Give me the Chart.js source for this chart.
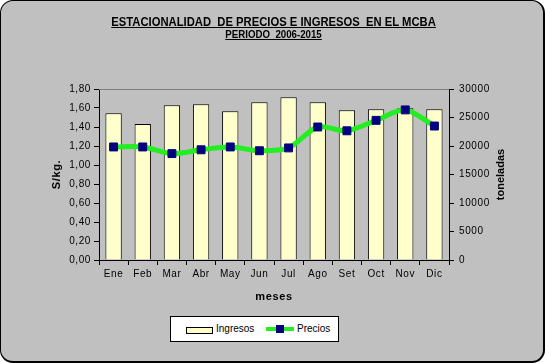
<!DOCTYPE html>
<html>
<head>
<meta charset="utf-8">
<script src="https://cdn.jsdelivr.net/npm/chart.js@4"></script>
<style>
  body { margin: 0; background: #fff; }
  #frame {
    position: relative; width: 545px; height: 363px; box-sizing: border-box;
    background: #c0c0c0; border: 1px solid #000; border-right-width: 2px; border-bottom-width: 2px;
    border-radius: 13px; overflow: hidden; font-family: "Liberation Sans", Arial, sans-serif;
  }
  #chart { position: absolute; left: -1px; top: -1px; }
  .title { position: absolute; left: 0; width: 545px; text-align: center; font-weight: bold;
    text-decoration: underline; white-space: pre; color: #000; transform-origin: 273px 0; }
  #t1 { top: 14px; font-size: 12.5px; transform: scaleX(0.9); }
  #t2 { top: 28px; font-size: 10px; transform: scaleX(0.97); }
  #legend { position: absolute; left: 169px; top: 315px; width: 167px; height: 24px;
    background: #fff; border: 1px solid #000; font-size: 10px; }
  #legend .sw { position: absolute; left: 15px; top: 10px; width: 25px; height: 5px;
    background: #ffffcc; border: 1px solid #000; }
  #legend .ln { position: absolute; left: 95px; top: 10px; width: 28px; height: 4px; background: #22ee22; }
  #legend .mk { position: absolute; left: 105px; top: 8px; width: 8px; height: 8px; background: #000080; }
  #legend .lb { position: absolute; top: 6px; }
</style>
</head>
<body>
<div id="frame">
  <canvas id="chart" width="545" height="363"></canvas>
  <div class="title" id="t1">ESTACIONALIDAD  DE PRECIOS E INGRESOS  EN EL MCBA</div>
  <div class="title" id="t2">PERIODO  2006-2015</div>
  <div id="legend">
    <span class="sw"></span><span class="lb" style="left:45px">Ingresos</span>
    <span class="ln"></span><span class="mk"></span><span class="lb" style="left:126px">Precios</span>
  </div>
</div>
<script>
// Estacionalidad de precios e ingresos - MCBA 2006-2015
const meses = ['Ene', 'Feb', 'Mar', 'Abr', 'May', 'Jun', 'Jul', 'Ago', 'Set', 'Oct', 'Nov', 'Dic'];
const ingresos = [25760, 23840, 27150, 27330, 26100, 27670, 28550, 27670, 26280, 26460, 26630, 26460];
const precios = [1.19, 1.19, 1.12, 1.16, 1.19, 1.15, 1.18, 1.40, 1.36, 1.47, 1.58, 1.41];
const ticksPrecio = ['0,00', '0,20', '0,40', '0,60', '0,80', '1,00', '1,20', '1,40', '1,60', '1,80'];
const ticksToneladas = ['0', '5000', '10000', '15000', '20000', '25000', '30000'];

const tickFont = { family: 'Liberation Sans', size: 10 };
const titleFont = { family: 'Liberation Sans', size: 11, weight: 'bold' };

// borde superior del area de trazado y titulo del eje derecho
const extras = {
  id: 'extras',
  beforeDraw(chart) {
    chart.ctx.letterSpacing = '0.6px';
  },
  afterDatasetsDraw(chart) {
    const { ctx, chartArea } = chart;
    ctx.save();
    ctx.strokeStyle = '#808080';
    ctx.lineWidth = 1;
    ctx.beginPath();
    ctx.moveTo(chartArea.left, chartArea.top + 0.5);
    ctx.lineTo(chartArea.right, chartArea.top + 0.5);
    ctx.stroke();
    ctx.restore();
  },
  afterDraw(chart) {
    const { ctx, chartArea } = chart;
    ctx.save();
    ctx.letterSpacing = '0px';
    ctx.translate(501, (chartArea.top + chartArea.bottom) / 2);
    ctx.rotate(-Math.PI / 2);
    ctx.font = 'bold 11px "Liberation Sans"';
    ctx.fillStyle = '#000';
    ctx.textAlign = 'center';
    ctx.textBaseline = 'middle';
    ctx.fillText('toneladas', 0, 0);
    ctx.restore();
  }
};

new Chart(document.getElementById('chart'), {
  data: {
    labels: meses,
    datasets: [{
      type: 'line',
      label: 'Precios',
      data: precios,
      yAxisID: 'y',
      borderColor: '#22ee22',
      borderWidth: 5,
      tension: 0.3,
      pointStyle: 'rect',
      pointRadius: 5.6,
      pointBackgroundColor: '#000080',
      pointBorderColor: '#000080',
      pointBorderWidth: 1,
      order: 1
    }, {
      type: 'bar',
      label: 'Ingresos',
      data: ingresos,
      yAxisID: 'y1',
      backgroundColor: '#ffffcc',
      borderColor: '#000',
      borderWidth: 1,
      barPercentage: 0.56,
      categoryPercentage: 1,
      order: 2
    }]
  },
  options: {
    responsive: false,
    animation: false,
    layout: { padding: { top: 89, left: 1, right: 0, bottom: 0 } },
    plugins: { legend: { display: false }, tooltip: { enabled: false } },
    scales: {
      x: {
        offset: true,
        grid: { offset: true, drawOnChartArea: false, color: '#000', tickLength: 5 },
        border: { color: '#000' },
        ticks: { color: '#000', font: tickFont, padding: 3, maxRotation: 0 },
        title: { display: true, text: 'meses', color: '#000', font: titleFont, padding: { bottom: 59 } },
        afterFit(s) { s.height = 103; }
      },
      y: {
        position: 'left',
        min: 0, max: 1.8,
        ticks: { stepSize: 0.2, color: '#000', font: tickFont, padding: 3,
          callback: (v, i) => ticksPrecio[i] },
        grid: { drawOnChartArea: false, color: '#000', tickLength: 5 },
        border: { color: '#000' },
        title: { display: true, text: 'S/kg.', color: '#000', font: titleFont, padding: { top: 49 } },
        afterFit(s) { s.width = 98; }
      },
      y1: {
        position: 'right',
        min: 0, max: 30000,
        ticks: { stepSize: 5000, color: '#000', font: tickFont, padding: 5,
          callback: (v, i) => ticksToneladas[i] },
        grid: { drawOnChartArea: false, color: '#000', tickLength: 5 },
        border: { color: '#000' },
        afterFit(s) { s.width = 96; }
      }
    }
  },
  plugins: [extras]
});
</script>
</body>
</html>
